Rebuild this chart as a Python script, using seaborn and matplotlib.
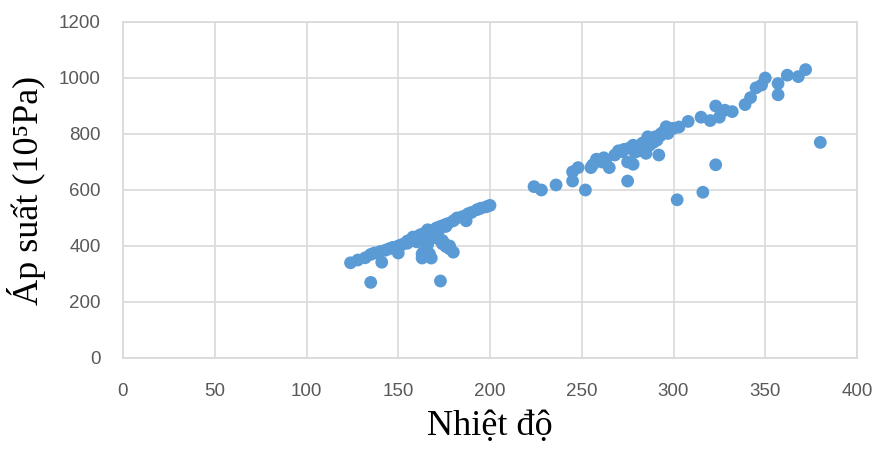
import matplotlib
matplotlib.use("Agg")
import matplotlib.pyplot as plt
import seaborn as sns
import pandas as pd

# Temperature (x) and pressure (y)
temp_low = [124, 128, 132, 135, 137, 140, 141, 143, 145, 147, 150, 150, 152, 155, 155,
            157, 158, 160, 160, 161, 162, 163, 164, 165, 165, 166, 167, 168, 168, 169,
            170, 170, 171, 172, 173, 174, 175, 175, 176, 177, 178, 180, 180, 182, 185,
            187, 188, 190, 193, 195, 198, 200, 135, 173, 148, 158, 166, 171,
            164, 167, 172, 174, 176, 178, 163, 166, 170]
pres_low = [340, 350, 358, 370, 375, 380, 342, 385, 390, 395, 400, 375, 405, 410, 418,
            420, 425, 430, 415, 435, 440, 357, 445, 440, 420, 450, 445, 455, 357, 430,
            460, 440, 465, 455, 470, 420, 475, 410, 470, 480, 400, 378, 490, 500, 505,
            490, 515, 520, 530, 535, 540, 545, 270, 275, 395, 432, 458, 448,
            380, 372, 425, 408, 398, 390, 372, 405, 435]

temp_high = [224, 228, 236, 245, 245, 248, 252, 255, 256, 258, 261, 262, 263, 265, 268,
             270, 272, 273, 275, 275, 276, 278, 278, 279, 280, 281, 282, 283, 283, 284,
             285, 285, 286, 286, 287, 288, 289, 290, 291, 291, 292, 293, 293, 294, 295,
             296, 296, 297, 298, 300, 302, 303, 308, 315, 316, 320, 323, 323, 325, 328,
             332, 339, 342, 345, 348, 350, 357, 357, 362, 368, 372, 380]
pres_high = [612, 600, 618, 665, 632, 680, 600, 680, 690, 710, 700, 715, 705, 680, 725,
             740, 737, 745, 632, 700, 750, 692, 760, 735, 755, 740, 760, 767, 745, 770,
             731, 750, 775, 790, 760, 780, 770, 790, 778, 785, 725, 800, 795, 805, 810,
             815, 826, 802, 820, 820, 565, 825, 845, 860, 592, 848, 900, 690, 860, 885,
             880, 905, 930, 965, 975, 1000, 980, 940, 1010, 1005, 1030, 770]

df = pd.DataFrame({"temp": temp_low + temp_high, "pres": pres_low + pres_high})

x_ticks = [0, 50, 100, 150, 200, 250, 300, 350, 400]
y_ticks = [0, 200, 400, 600, 800, 1000, 1200]

sns.set_theme(style="white")
plt.rcParams["font.family"] = ["Liberation Sans", "DejaVu Sans"]

fig = plt.figure(figsize=(8.77, 4.5), dpi=100)
ax = fig.add_axes([123 / 877, 1 - 358 / 450, 734 / 877, 336 / 450])

sns.scatterplot(data=df, x="temp", y="pres", ax=ax, color="#5B9BD5",
                s=85, edgecolor="none", linewidth=0, zorder=3, clip_on=False)

ax.set_xlim(0, 400)
ax.set_ylim(0, 1200)
ax.set_xticks(x_ticks)
ax.set_yticks(y_ticks)
ax.set_xticklabels([str(v) for v in x_ticks])
ax.set_yticklabels([str(v) for v in y_ticks])
ax.tick_params(axis="both", length=0, labelsize=13.5, labelcolor="#595959")
ax.tick_params(axis="x", pad=18)
ax.tick_params(axis="y", pad=16)

ax.grid(True, color="#D9D9D9", linewidth=1.2)
ax.set_axisbelow(True)
for side, sp in ax.spines.items():
    sp.set_visible(True)
    sp.set_color("#D9D9D9")
    sp.set_linewidth(1.2)

serif = ["Liberation Serif", "DejaVu Serif"]
ax.set_xlabel("Nhiệt độ", fontsize=26, family=serif, color="#000000")
ax.set_ylabel("Áp suất (10⁵Pa)", fontsize=26, family=serif, color="#000000")
ax.xaxis.set_label_coords(0.5, -0.155)
ax.yaxis.set_label_coords(-0.105, 0.5)

fig.savefig("out.png", dpi=100, facecolor="white")
